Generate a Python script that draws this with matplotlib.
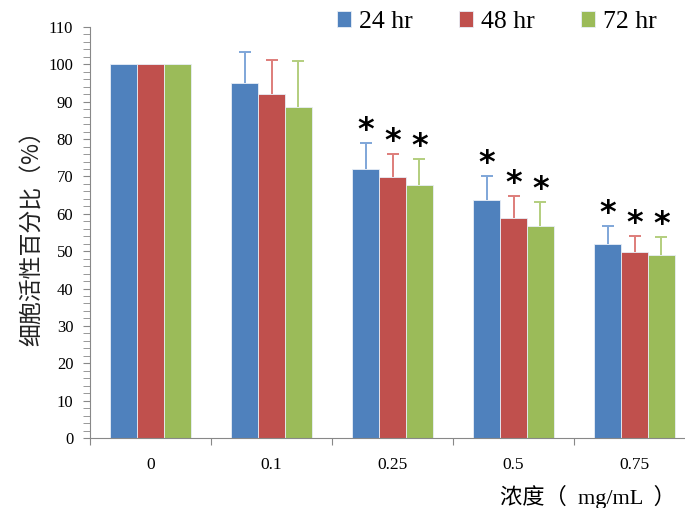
import matplotlib.pyplot as plt
from matplotlib.ticker import MultipleLocator
import numpy as np

concs = ['0', '0.1', '0.25', '0.5', '0.75']
series = ['24 hr', '48 hr', '72 hr']
v24 = [100, 95.0, 72.0, 63.7, 51.9]
v48 = [100, 92.1, 69.9, 58.9, 49.8]
v72 = [100, 88.6, 67.7, 56.7, 49.0]
e24 = [0, 8.3, 7.0, 6.4, 4.8]
e48 = [0, 9.1, 6.1, 5.9, 4.3]
e72 = [0, 12.3, 7.0, 6.5, 4.8]
star = [False, False, True, True, True]  # significance marks

colors = ['#4F81BD', '#C0504D', '#9BBB59']
errcolors = ['#7FA6D8', '#DE7D7A', '#B3CE7E']
serif = ['Liberation Serif', 'Noto Sans CJK SC']

fig = plt.figure(figsize=(6.85, 5.08), dpi=100)
ax = fig.add_axes([90/685, 70/508, 605/685, 411/508])

x = np.arange(len(concs))
w = 0.223
vals = [v24, v48, v72]
errs = [e24, e48, e72]
for i in range(3):
    pos = x + (i - 1) * w
    ax.bar(pos, vals[i], w, color=colors[i], edgecolor='#E8EEF7', linewidth=0.6,
           label=series[i], zorder=2)
    # upper error bars only, skip zero errors
    for j in range(5):
        if errs[i][j] > 0:
            _, caps, _ = ax.errorbar(pos[j], vals[i][j], yerr=[[0], [errs[i][j]]], fmt='none',
                                     ecolor=errcolors[i], elinewidth=1.4, capsize=4,
                                     capthick=1.4, zorder=3)
            caps[0].set_visible(False)
        if star[j]:
            ax.text(pos[j], vals[i][j] + errs[i][j] + 3.4, '*', ha='center', va='center',
                    fontsize=23, fontweight='bold', family='DejaVu Sans')

ax.set_xlim(-0.5, 4.5)
ax.set_ylim(0, 110)
ax.yaxis.set_major_locator(MultipleLocator(10))
ax.yaxis.set_minor_locator(MultipleLocator(2))
ax.set_xticks(np.arange(-0.5, 5, 1))
ax.set_xticklabels([])
ax.set_xticks(x, minor=True)
ax.set_xticklabels(concs, minor=True, family=serif, fontsize=12.5)
ax.tick_params(axis='x', which='minor', length=0, pad=14)
ax.tick_params(axis='x', which='major', length=5, color='#888888')
ax.tick_params(axis='y', which='both', length=5, color='#888888', pad=7)
for lab in ax.get_yticklabels():
    lab.set_family(serif)
    lab.set_fontsize(12)
for s in ['top', 'right']:
    ax.spines[s].set_visible(False)
for s in ['left', 'bottom']:
    ax.spines[s].set_color('#888888')

ax.yaxis.set_label_coords(-46/605, 0.5)
ax.set_ylabel('细胞活性百分比（%）', family=['Noto Sans CJK SC'], fontsize=16.5, color='#222222')
fig.text(500/685, 1 - 497/508, '浓度（  mg/mL  ）', family=serif, fontsize=16,
         ha='left', va='center')

leg = fig.legend(loc='center', bbox_to_anchor=(497/685, 1 - 22/508), ncol=3, frameon=False,
                 prop={'family': serif, 'size': 18.5}, handlelength=0.55, handleheight=0.55,
                 columnspacing=1.8, handletextpad=0.3)

fig.savefig('out.png', dpi=100)
